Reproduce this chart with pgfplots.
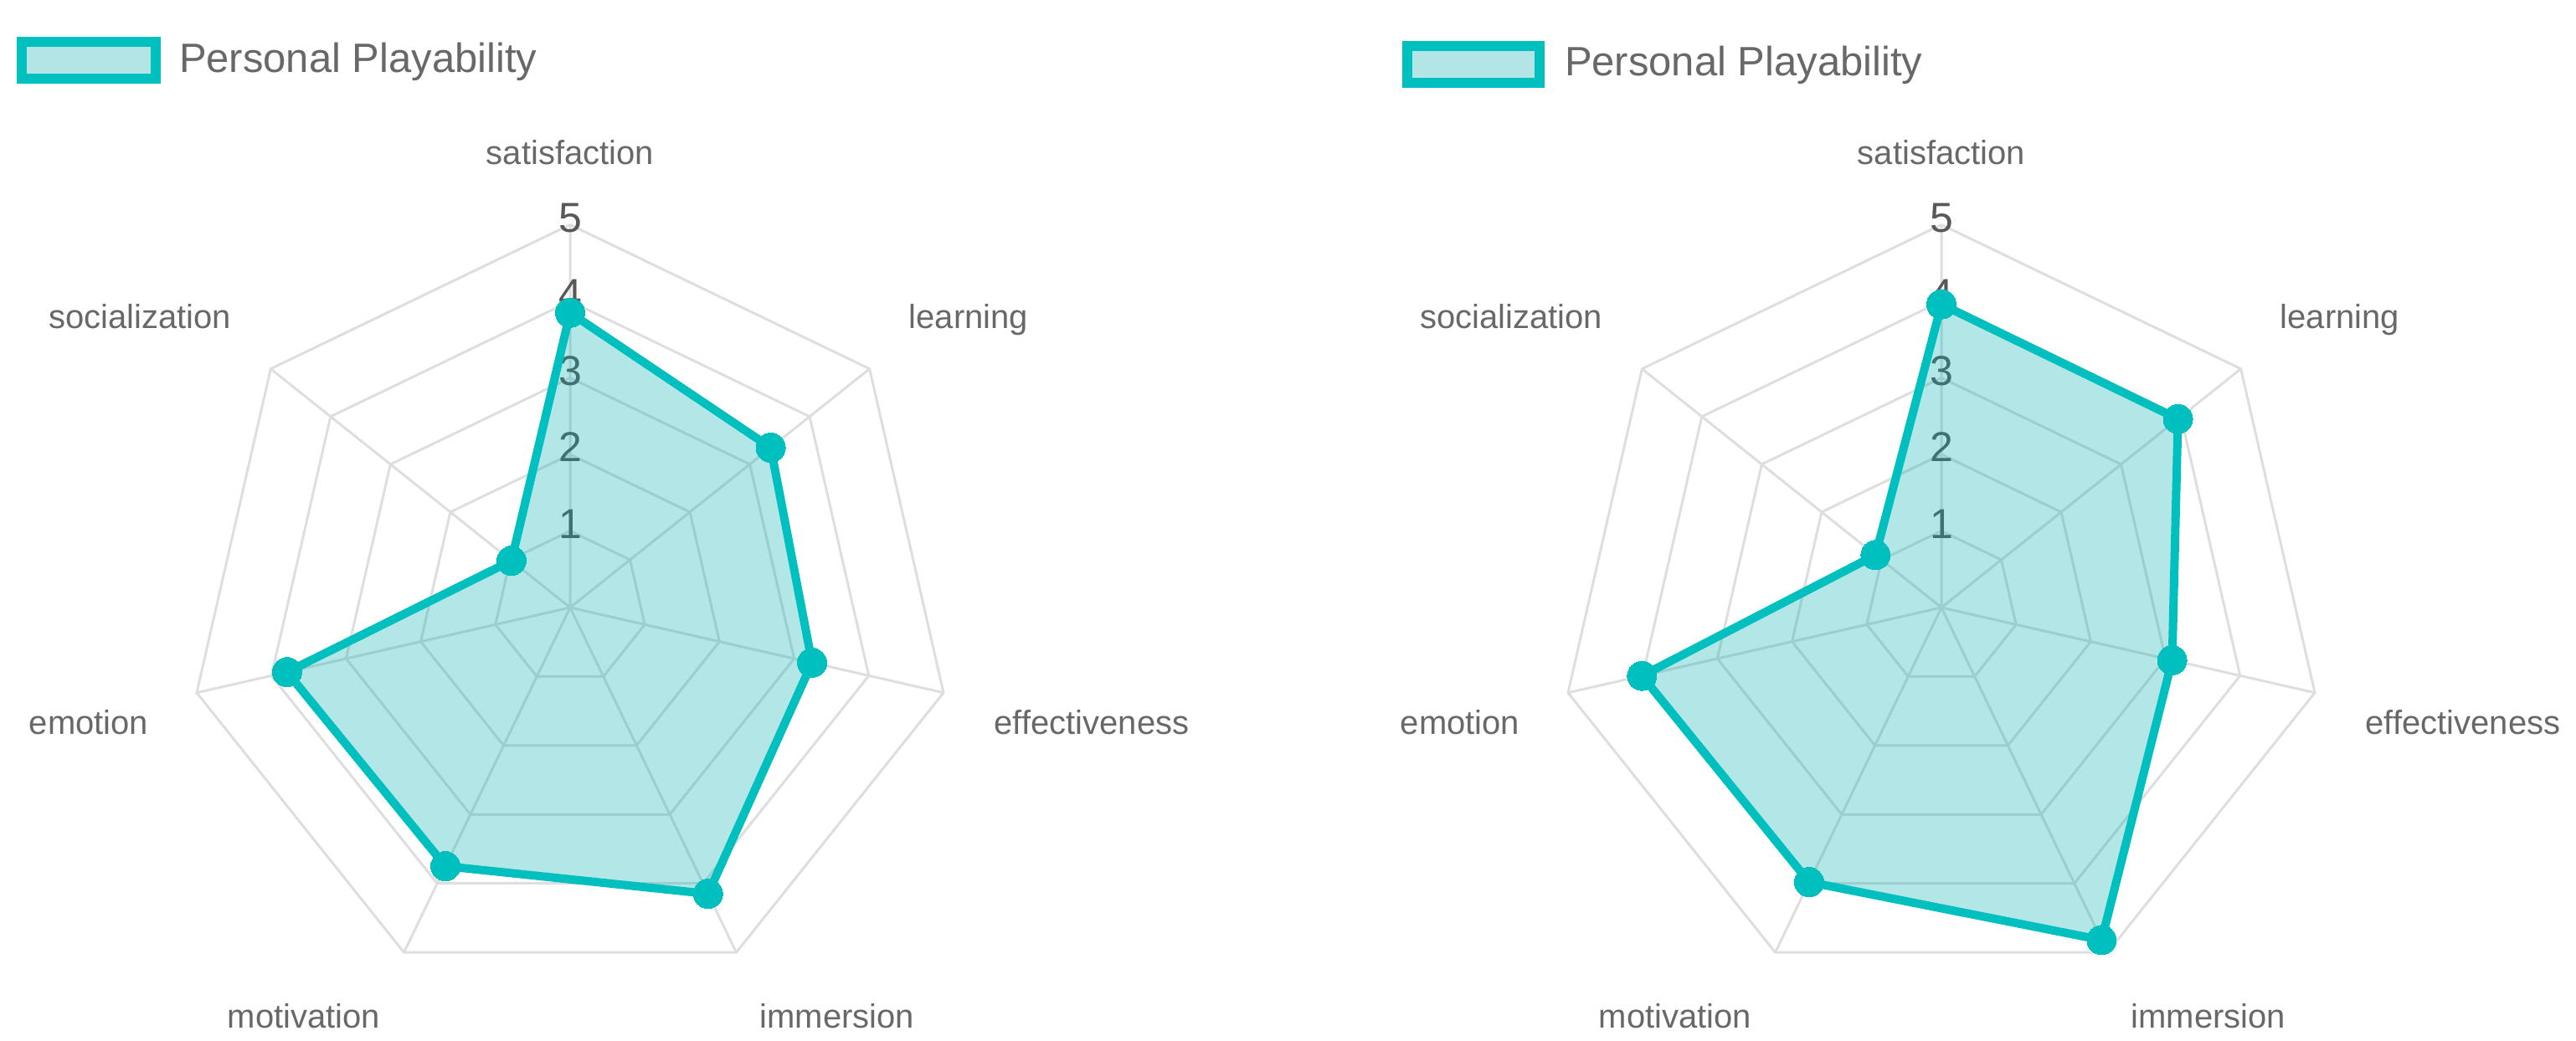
\documentclass[border=0pt]{standalone}
\usepackage{pgfplots}
\pgfplotsset{compat=1.18}
\usepackage{pgfplotstable}
\usepackage{fontspec}
\setmainfont{Liberation Sans}
\definecolor{teal1}{RGB}{0,191,191}
\definecolor{tealfill}{RGB}{0,172,175}
\definecolor{legfill}{RGB}{179,229,230}
\definecolor{gridc}{RGB}{222,222,222}
\definecolor{labc}{RGB}{104,104,104}
\definecolor{tickc}{RGB}{88,88,88}

% angle (degrees clockwise from top), value
\pgfplotstableread{
a r
0        3.85
51.4286  3.35
102.857  3.24
154.286  4.15
205.714  3.75
257.143  3.79
308.571  0.98
360      3.85
}\leftdata

\pgfplotstableread{
a r
0        3.96
51.4286  3.95
102.857  3.09
154.286  4.82
205.714  3.98
257.143  4.01
308.571  1.10
360      3.96
}\rightdata

\pgfplotstableread{
a r
0        1
51.4286  1
102.857  1
154.286  1
205.714  1
257.143  1
308.571  1
360      1
}\ringtab

\pgfplotstableread{
a r
0        5
0        0
51.4286  5
51.4286  0
102.857  5
102.857  0
154.286  5
154.286  0
205.714  5
205.714  0
257.143  5
257.143  0
308.571  5
308.571  0
}\spoketab

\begin{document}
\begin{tikzpicture}
\begin{axis}[
  width=615.4pt, height=248.8pt, scale only axis,
  xmin=0, xmax=3077, ymin=0, ymax=1244, y dir=reverse,
  hide axis, clip=false,
]
\path (axis cs:0,0) rectangle (axis cs:3077,1244);

% ---------- grids ----------
\pgfplotsinvokeforeach{1,2,3,4,5}{
  \addplot[gridc, line width=0.6pt, line join=miter] table[x expr={681+91.5*#1*sin(\thisrow{a})}, y expr={726-91.5*#1*cos(\thisrow{a})}] {\ringtab};
  \addplot[gridc, line width=0.6pt, line join=miter] table[x expr={2319+91.5*#1*sin(\thisrow{a})}, y expr={726-91.5*#1*cos(\thisrow{a})}] {\ringtab};
}
\addplot[gridc, line width=0.6pt] table[x expr={681+91.5*\thisrow{r}*sin(\thisrow{a})}, y expr={726-91.5*\thisrow{r}*cos(\thisrow{a})}] {\spoketab};
\addplot[gridc, line width=0.6pt] table[x expr={2319+91.5*\thisrow{r}*sin(\thisrow{a})}, y expr={726-91.5*\thisrow{r}*cos(\thisrow{a})}] {\spoketab};

% ---------- tick labels ----------
\pgfplotsinvokeforeach{681,2319}{
  \node[anchor=base, font=\fontsize{10}{10}\selectfont, text=tickc, inner sep=0pt] at (axis cs:#1,643.5) {1};
  \node[anchor=base, font=\fontsize{10}{10}\selectfont, text=tickc, inner sep=0pt] at (axis cs:#1,552) {2};
  \node[anchor=base, font=\fontsize{10}{10}\selectfont, text=tickc, inner sep=0pt] at (axis cs:#1,460.5) {3};
  \node[anchor=base, font=\fontsize{10}{10}\selectfont, text=tickc, inner sep=0pt] at (axis cs:#1,369) {4};
  \node[anchor=base, font=\fontsize{10}{10}\selectfont, text=tickc, inner sep=0pt] at (axis cs:#1,277.5) {5};
}

% ---------- data ----------
\addplot[draw=teal1, line width=2pt, line join=round, fill=tealfill, fill opacity=0.3,
  mark=*, mark size=3.5pt, mark options={fill=teal1, draw=teal1, fill opacity=1, line width=0pt}]
  table[x expr={681+91.5*\thisrow{r}*sin(\thisrow{a})}, y expr={726-91.5*\thisrow{r}*cos(\thisrow{a})}] {\leftdata};
\addplot[draw=teal1, line width=2pt, line join=round, fill=tealfill, fill opacity=0.3,
  mark=*, mark size=3.5pt, mark options={fill=teal1, draw=teal1, fill opacity=1, line width=0pt}]
  table[x expr={2319+91.5*\thisrow{r}*sin(\thisrow{a})}, y expr={726-91.5*\thisrow{r}*cos(\thisrow{a})}] {\rightdata};

% ---------- category labels ----------
\pgfplotsinvokeforeach{0,1638}{
  \node[anchor=base, font=\fontsize{8}{8}\selectfont, text=labc, inner sep=0pt] at (axis cs:681+#1,197) {satisfaction};
  \node[anchor=base, font=\fontsize{8}{8}\selectfont, text=labc, inner sep=0pt] at (axis cs:1157+#1,393) {learning};
  \node[anchor=base, font=\fontsize{8}{8}\selectfont, text=labc, inner sep=0pt] at (axis cs:1304+#1,878) {effectiveness};
  \node[anchor=base, font=\fontsize{8}{8}\selectfont, text=labc, inner sep=0pt] at (axis cs:1000+#1,1229) {immersion};
  \node[anchor=base, font=\fontsize{8}{8}\selectfont, text=labc, inner sep=0pt] at (axis cs:363+#1,1229) {motivation};
  \node[anchor=base, font=\fontsize{8}{8}\selectfont, text=labc, inner sep=0pt] at (axis cs:106+#1,878) {emotion};
  \node[anchor=base, font=\fontsize{8}{8}\selectfont, text=labc, inner sep=0pt] at (axis cs:167+#1,393) {socialization};
}

% ---------- legends ----------
\draw[draw=teal1, line width=2.4pt, fill=legfill] (axis cs:26,50) rectangle (axis cs:186,94);
\node[anchor=base west, font=\fontsize{9.8}{9.8}\selectfont, text=labc, inner sep=0pt] at (axis cs:213,86) {Personal Playability};
\draw[draw=teal1, line width=2.4pt, fill=legfill] (axis cs:1681,55) rectangle (axis cs:1839,99);
\node[anchor=base west, font=\fontsize{9.8}{9.8}\selectfont, text=labc, inner sep=0pt] at (axis cs:1868,91) {Personal Playability};
\end{axis}
\end{tikzpicture}
\end{document}
